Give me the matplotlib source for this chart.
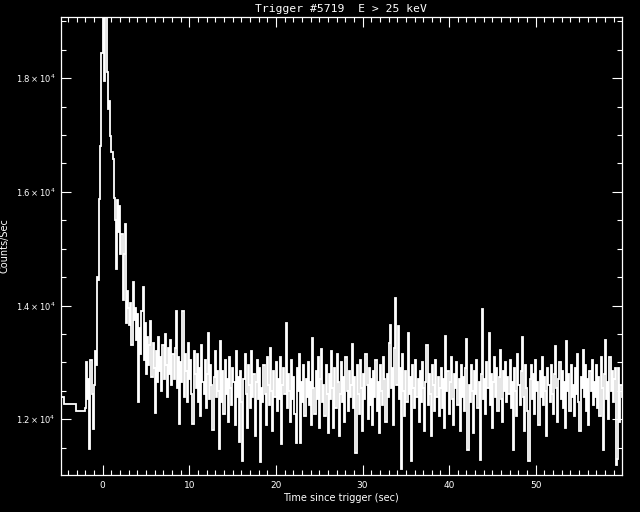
import numpy as np
import matplotlib
matplotlib.use("Agg")
import matplotlib.pyplot as plt
from matplotlib.ticker import MultipleLocator, FuncFormatter

# ---- data ----
coarse_edges = [-4.86, -4.42, -3.02, -2.048]
coarse_counts = [12390, 12265, 12140]

fine_start = -2.048
fine_dt = 0.128
fine_counts = [
    # -2.048 .. 0.512
    12200, 13000, 12350, 12700, 11470, 13050, 12450, 11830, 12600, 13200,
    12950, 14500, 14450, 15870, 16800, 18440, 19400, 17950, 19600, 19300,
    # 0.512 .. 3.072
    18100, 17450, 17600, 16980, 16700, 16580, 15900, 15500, 14650, 15850,
    15300, 15750, 14900, 15250, 14100, 14900, 15440, 13700, 14250, 13950,
    # 3.072 .. 5.632
    13650, 14050, 13300, 14420, 13750, 13950, 13400, 13850, 12310, 13600,
    13150, 13900, 14330, 13050, 13700, 12800, 13450, 12950, 13300, 13730,
    # 5.632 .. 8.192
    12750, 13350, 12900, 12110, 13200, 12650, 13450, 12850, 13100, 12500,
    13300, 12700, 13500, 12950, 12400, 13250, 12800, 13400, 12600, 13150,
    # 8.192 .. 10.752
    12700, 13250, 13900, 12550, 13100, 11920, 13000, 12650, 13910, 12400,
    13150, 12850, 12300, 13350, 12700, 13050, 12450, 11920, 13200, 12800,
    # 10.752 .. 13.312
    12550, 13150, 12300, 12900, 12050, 13300, 12650, 12450, 13050, 12200,
    12800, 13510, 12350, 12950, 12600, 11810, 12750, 13200, 12400, 12850,
    # 13.312 .. 15.872
    12500, 11475, 13370, 12300, 12850, 12100, 13050, 12450, 12700, 11950,
    13100, 12550, 12250, 12900, 12650, 11900, 13200, 12400, 12750, 11600,
    # 15.872 .. 18.432
    12850, 12300, 11275, 12700, 13150, 12450, 11850, 12950, 12600, 12200,
    13200, 12400, 12800, 11700, 12650, 13050, 12350, 12900, 11244, 12550,
    # 18.432 .. 20.992
    12300, 12950, 12450, 11900, 13100, 12600, 12250, 13250, 12500, 11800,
    12850, 12400, 13000, 12150, 12700, 12350, 13100, 11570, 12600, 12900,
    # 20.992 .. 23.552
    12450, 13700, 12200, 12800, 12500, 11950, 13050, 12350, 12750, 12100,
    11590, 12900, 12500, 13150, 11580, 12650, 12300, 12950, 12050, 12700,
    # 23.552 .. 26.112
    12400, 13000, 12250, 12650, 11900, 13424, 12550, 12100, 12850, 12350,
    13100, 11850, 12700, 13230, 12300, 12600, 12050, 12950, 12450, 11750,
    # 26.112 .. 28.672
    12800, 12350, 13200, 12550, 11850, 12900, 12200, 13150, 12650, 11700,
    12450, 13000, 12300, 12750, 11950, 13100, 12500, 12150, 12850, 12400,
    # 28.672 .. 31.232
    12600, 13320, 12200, 12750, 11400, 12950, 12450, 12100, 13050, 12550,
    11800, 12800, 12350, 13150, 12600, 12000, 12900, 12250, 12700, 11900,
    # 31.232 .. 33.792
    12850, 12400, 13050, 12150, 12650, 11750, 12950, 12500, 12250, 13100,
    12700, 11950, 12800, 12400, 13350, 13660, 12550, 12900, 11900, 13250,
    # 33.792 .. 36.352
    14140, 12600, 13640, 12350, 12900, 11120, 13150, 12500, 12050, 12850,
    12300, 13525, 12450, 12750, 11260, 12950, 12550, 12200, 13050, 12400,
    # 36.352 .. 38.912
    12700, 11950, 12850, 12300, 13000, 12550, 11800, 12650, 13310, 12250,
    12800, 12450, 11700, 12950, 12600, 12150, 13050, 12400, 12750, 12050,
    # 38.912 .. 41.472
    12550, 12900, 12200, 12700, 11850, 13465, 12500, 12850, 12100, 12650,
    13100, 12350, 11900, 12800, 12550, 13000, 12250, 12700, 11800, 12950,
    # 41.472 .. 44.032
    12400, 12750, 12150, 12900, 13410, 11460, 12600, 12300, 12950, 12500,
    11750, 12850, 12450, 13050, 12200, 12650, 11284, 12800, 13935, 12350,
    # 44.032 .. 46.592
    12700, 12100, 13000, 12550, 13525, 12250, 12800, 11850, 12650, 13100,
    12400, 12900, 12150, 12750, 13220, 12350, 11950, 12850, 12500, 13000,
    # 46.592 .. 49.152
    12300, 12750, 12450, 13050, 12200, 12650, 11460, 12900, 12500, 12050,
    13150, 12600, 12250, 12850, 13440, 12400, 11800, 12950, 12550, 12150,
    # 49.152 .. 51.712
    11260, 12700, 12950, 12350, 12800, 12100, 13050, 12500, 12650, 11900,
    12850, 12400, 13100, 12250, 12750, 12500, 11700, 12900, 12600, 12300,
    # 51.712 .. 54.272
    12950, 12450, 12100, 12800, 13290, 12550, 11950, 12700, 13000, 12350,
    12850, 12200, 12650, 11850, 13385, 12500, 12800, 12150, 12950, 12400,
    # 54.272 .. 56.832
    12600, 12050, 12900, 12450, 13150, 12300, 11800, 12750, 12550, 13220,
    12400, 12950, 12150, 12700, 11900, 12850, 12500, 13050, 12250, 12650,
    # 56.832 .. 59.392
    12400, 12950, 12200, 12750, 12050, 13100, 12550, 11460, 12800, 13400,
    12350, 12650, 12000, 13100, 12500, 12850, 12300, 12700, 12900, 11196,
    # 59.392 .. 60.032
    11300, 12900, 11950, 12600, 12400,
]

title = "Trigger #5719  E > 25 keV"
xlabel = "Time since trigger (sec)"
ylabel = "Counts/Sec"
x_range = (-4.86, 59.95)
y_range = (11020, 19070)

# ---- build step edges ----
fine_edges = fine_start + fine_dt * np.arange(len(fine_counts) + 1)
edges = np.concatenate([coarse_edges[:-1], fine_edges])
values = np.concatenate([coarse_counts, fine_counts])

fig = plt.figure(figsize=(6.4, 5.12), dpi=100, facecolor="black")
ax = fig.add_axes([60.5 / 640, 1 - 475 / 512, (622 - 60.5) / 640, (475 - 17.3) / 512])
ax.set_facecolor("black")

ax.stairs(values, edges, baseline=None, color="white", lw=1.3)

ax.set_xlim(*x_range)
ax.set_ylim(*y_range)

ax.xaxis.set_major_locator(MultipleLocator(10))
ax.xaxis.set_minor_locator(MultipleLocator(1))
ax.yaxis.set_major_locator(MultipleLocator(2000))
ax.yaxis.set_minor_locator(MultipleLocator(500))
ax.yaxis.set_major_formatter(FuncFormatter(lambda v, p: r"$%.1f\times10^{4}$" % (v / 1e4)))

for s in ax.spines.values():
    s.set_color("white")
    s.set_linewidth(0.9)

ax.tick_params(which="both", direction="in", top=True, right=True,
               colors="white", labelcolor="white", width=0.8)
ax.tick_params(which="major", length=7)
ax.tick_params(which="minor", length=3.5)
ax.tick_params(axis="x", which="major", labelsize=6.5, pad=4.3)
ax.tick_params(axis="y", which="major", labelsize=6, pad=3.6)

fig.text(340.5 / 640, 1 - 8.5 / 512, title, color="white", ha="center", va="center",
         family="DejaVu Sans Mono", fontsize=8.2)
fig.text(341 / 640, 1 - 498 / 512, xlabel, color="white", ha="center", va="center",
         fontsize=7)
fig.text(5 / 640, 1 - 246 / 512, ylabel, color="white", ha="center", va="center",
         rotation=90, fontsize=7)

fig.savefig("out.png", dpi=100, facecolor="black")
